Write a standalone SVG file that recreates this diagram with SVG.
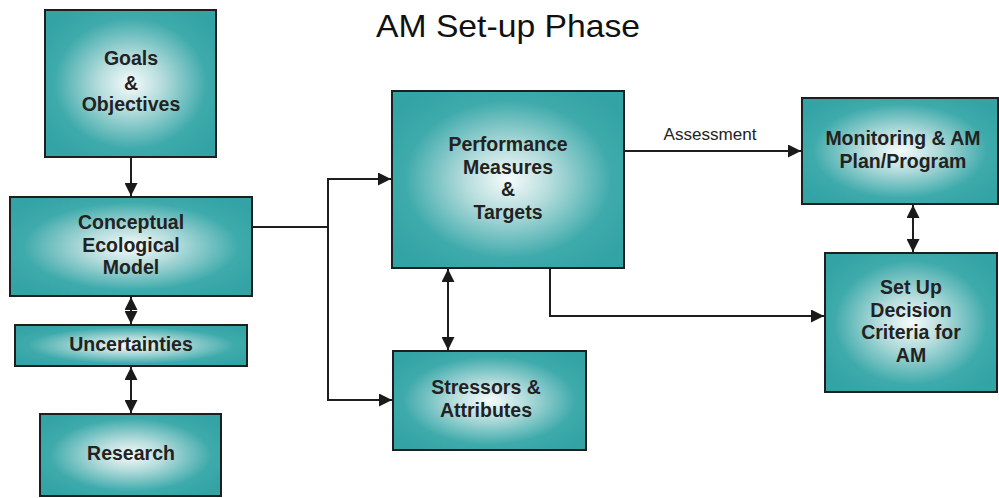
<svg xmlns="http://www.w3.org/2000/svg" width="999" height="498" viewBox="0 0 999 498">
<defs>
<radialGradient id="g" cx="0.5" cy="0.5" r="0.62">
<stop offset="0" stop-color="#f6fbfb"/>
<stop offset="0.3" stop-color="#b5dcdc"/>
<stop offset="0.72" stop-color="#3eaaab"/>
<stop offset="1" stop-color="#33a3a5"/>
</radialGradient>
<marker id="ah" viewBox="0 0 10 10" refX="10" refY="5" markerWidth="13" markerHeight="13" markerUnits="userSpaceOnUse" orient="auto-start-reverse">
<path d="M0,0 L10,5 L0,10 z" fill="#1a1a1a"/>
</marker>
<style>
.box{fill:url(#g);stroke:#1e1e1e;stroke-width:2}
.t{font-family:"Liberation Sans",Arial,sans-serif;font-weight:bold;font-size:19.5px;fill:#222;text-anchor:middle}
.c{fill:none;stroke:#1e1e1e;stroke-width:2}
</style>
</defs>
<rect width="999" height="498" fill="#ffffff"/>
<text x="508" y="37" font-family="Liberation Sans,Arial,sans-serif" font-size="32" fill="#111" text-anchor="middle" textLength="264" lengthAdjust="spacingAndGlyphs">AM Set-up Phase</text>

<g id="connectors">
<line class="c" x1="131" y1="157" x2="131" y2="196" marker-end="url(#ah)"/>
<line class="c" x1="131" y1="297" x2="131" y2="324" marker-start="url(#ah)" marker-end="url(#ah)"/>
<line class="c" x1="131" y1="367" x2="131" y2="413" marker-start="url(#ah)" marker-end="url(#ah)"/>
<polyline class="c" points="252,227 328,227"/>
<polyline class="c" points="328,227 328,179 391,179" marker-end="url(#ah)"/>
<polyline class="c" points="328,227 328,400 392,400" marker-end="url(#ah)"/>
<line class="c" x1="448" y1="269" x2="448" y2="350" marker-start="url(#ah)" marker-end="url(#ah)"/>
<polyline class="c" points="550,268 550,316 824,316" marker-end="url(#ah)"/>
<line class="c" x1="624" y1="151" x2="801" y2="151" marker-end="url(#ah)"/>
<text x="710" y="140" font-family="Liberation Sans,Arial,sans-serif" font-size="16" fill="#222" text-anchor="middle" textLength="93" lengthAdjust="spacingAndGlyphs">Assessment</text>
<line class="c" x1="913" y1="205" x2="913" y2="252" marker-start="url(#ah)" marker-end="url(#ah)"/>
</g>

<g id="goals">
<rect class="box" x="45" y="10" width="171" height="147"/>
<text class="t" x="131" y="65">Goals</text>
<text class="t" x="131" y="90">&amp;</text>
<text class="t" x="131" y="111">Objectives</text>
</g>
<g id="conceptual">
<rect class="box" x="10" y="197" width="242" height="99"/>
<text class="t" x="131" y="229">Conceptual</text>
<text class="t" x="131" y="252">Ecological</text>
<text class="t" x="131" y="274">Model</text>
</g>
<g id="uncertainties">
<rect class="box" x="15" y="325" width="232" height="41"/>
<text class="t" x="131" y="351">Uncertainties</text>
</g>
<g id="research">
<rect class="box" x="40" y="414" width="181" height="82"/>
<text class="t" x="131" y="460">Research</text>
</g>
<g id="performance">
<rect class="box" x="392" y="91" width="232" height="177"/>
<text class="t" x="508" y="151">Performance</text>
<text class="t" x="508" y="174">Measures</text>
<text class="t" x="508" y="196">&amp;</text>
<text class="t" x="508" y="219">Targets</text>
</g>
<g id="stressors">
<rect class="box" x="393" y="351" width="193" height="99"/>
<text class="t" x="486" y="394">Stressors &amp;</text>
<text class="t" x="486" y="417">Attributes</text>
</g>
<g id="monitoring">
<rect class="box" x="802" y="98" width="196" height="106"/>
<text class="t" x="903" y="145">Monitoring &amp; AM</text>
<text class="t" x="903" y="168">Plan/Program</text>
</g>
<g id="setup">
<rect class="box" x="825" y="253" width="172" height="139"/>
<text class="t" x="911" y="294">Set Up</text>
<text class="t" x="911" y="317">Decision</text>
<text class="t" x="911" y="339">Criteria for</text>
<text class="t" x="911" y="362">AM</text>
</g>
</svg>
